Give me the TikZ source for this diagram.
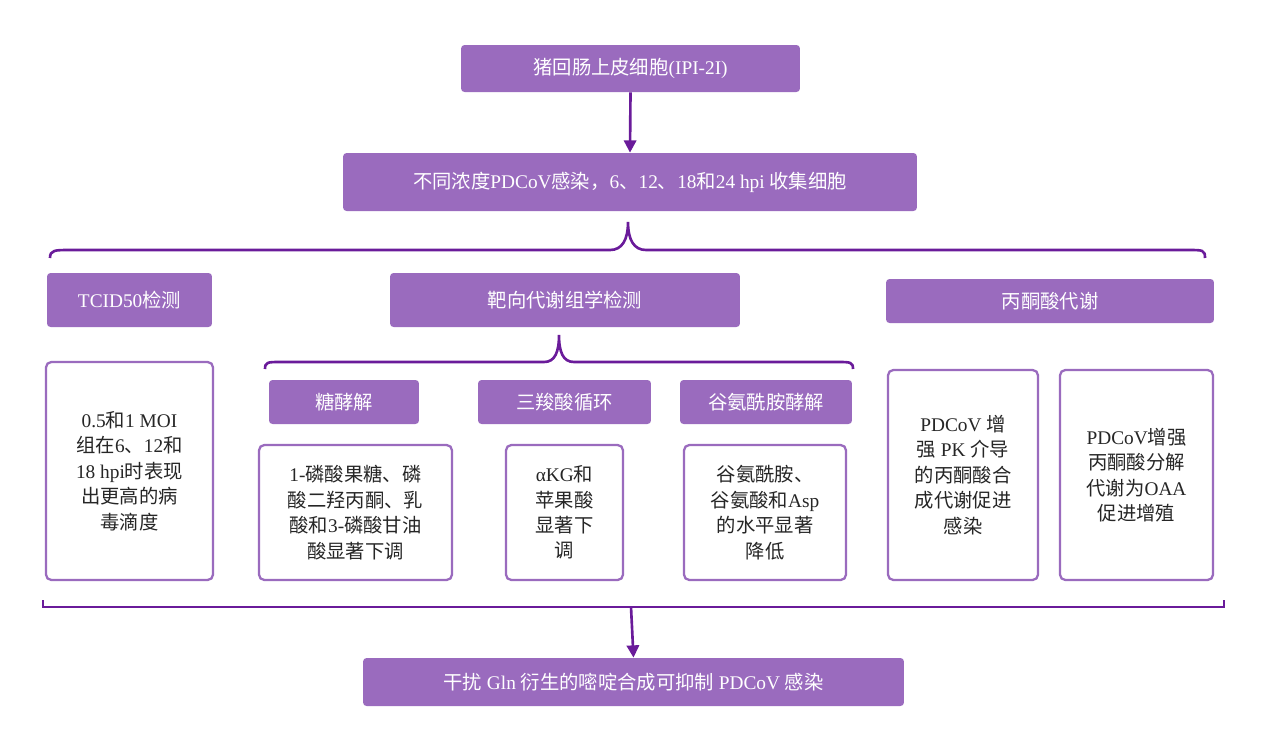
\documentclass[tikz,border=0pt]{standalone}
\usepackage{fontspec}
\setmainfont{Liberation Serif}
\newfontfamily\cjk{Noto Sans CJK SC}
\newcommand{\zh}[1]{{\cjk #1}}
\usetikzlibrary{arrows.meta}
\definecolor{pf}{HTML}{9A6BBE}
\definecolor{pd}{HTML}{6A1B9A}
\begin{document}
\begin{tikzpicture}[x=0.02cm,y=-0.02cm,
 fb/.style={fill=pf,draw=none,rounded corners=2pt,text=white,font=\fontsize{11}{13}\selectfont,align=center},
 wb/.style={draw=pf,line width=1.3pt,fill=white,rounded corners=3pt,font=\fontsize{11}{14.5}\selectfont,align=center,text=black!85},
 ar/.style={pd,line width=1.5pt,-{Triangle[length=7pt,width=7pt]}},
 br/.style={pd,line width=1.5pt}]
\useasboundingbox (0,0) rectangle (1267,751);
\newcommand{\bx}[6]{\node[#1,minimum width=#4*0.02cm-0.02cm,minimum height=#5*0.02cm,inner sep=0pt] (#6) at (#2,#3) {};}
% filled boxes
\node[fb,minimum width=6.78cm,minimum height=0.94cm] (a) at (630.5,68.5) {\zh{猪回肠上皮细胞}(IPI-2I)};
\node[fb,minimum width=11.48cm,minimum height=1.16cm] (b) at (630,182) {\zh{不同浓度}PDCoV\zh{感染，}6\zh{、}12\zh{、}18\zh{和}24 hpi \zh{收集细胞}};
\node[fb,minimum width=3.3cm,minimum height=1.08cm] (t) at (129.5,300) {TCID50\zh{检测}};
\node[fb,minimum width=7.0cm,minimum height=1.08cm] (m) at (565,300) {\zh{靶向代谢组学检测}};
\node[fb,minimum width=6.56cm,minimum height=0.88cm] (p) at (1050,301) {\zh{丙酮酸代谢}};
\node[fb,minimum width=3.0cm,minimum height=0.88cm] (g1) at (344,402) {\zh{糖酵解}};
\node[fb,minimum width=3.46cm,minimum height=0.88cm] (g2) at (564.5,402) {\zh{三羧酸循环}};
\node[fb,minimum width=3.44cm,minimum height=0.88cm] (g3) at (766,402) {\zh{谷氨酰胺酵解}};
\node[fb,minimum width=10.82cm,minimum height=0.96cm] (z) at (633.5,682) {\zh{干扰} Gln \zh{衍生的嘧啶合成可抑制} PDCoV \zh{感染}};
% white boxes
\node[wb,minimum width=3.34cm,minimum height=4.36cm] (w0) at (129.5,471) {0.5\zh{和}1 MOI\\\zh{组在}6\zh{、}12\zh{和}\\18 hpi\zh{时表现}\\\zh{出更高的病}\\\zh{毒滴度}};
\node[wb,minimum width=3.86cm,minimum height=2.7cm] (w1) at (355.5,512.5) {1-\zh{磷酸果糖、磷}\\\zh{酸二羟丙酮、乳}\\\zh{酸和}3-\zh{磷酸甘油}\\\zh{酸显著下调}};
\node[wb,minimum width=2.34cm,minimum height=2.7cm] (w2) at (564.5,512.5) {αKG\zh{和}\\\zh{苹果酸}\\\zh{显著下}\\\zh{调}};
\node[wb,minimum width=3.24cm,minimum height=2.7cm] (w3) at (765,512.5) {\zh{谷氨酰胺、}\\\zh{谷氨酸和}Asp\\\zh{的水平显著}\\\zh{降低}};
\node[wb,minimum width=3.0cm,minimum height=4.2cm] (w4) at (963,475) {PDCoV \zh{增}\\\zh{强} PK \zh{介导}\\\zh{的丙酮酸合}\\\zh{成代谢促进}\\\zh{感染}};
\node[wb,minimum width=3.06cm,minimum height=4.2cm] (w5) at (1136.5,475) {PDCoV\zh{增强}\\\zh{丙酮酸分解}\\\zh{代谢为}OAA\\\zh{促进增殖}};
% arrows
\draw[ar] (a.south) -- (b.north);
% top brace
\draw[br] (50,258) .. controls (50,250) and (55,250) .. (70,250) -- (610,250) .. controls (622,250) and (628,240) .. (628,222)
 .. controls (628,240) and (634,250) .. (646,250) -- (1188,250) .. controls (1203,250) and (1205,250) .. (1205,258);
\coordinate (bt) at (628,222);
% mid brace
\draw[br] (265,369) .. controls (265,362) and (268,362) .. (280,362) -- (544,362) .. controls (555,362) and (559,352) .. (559,335)
 .. controls (559,352) and (563,362) .. (574,362) -- (838,362) .. controls (850,362) and (853,362) .. (853,369);
% bottom bracket
\coordinate (bb) at (631,607);
\draw[br] (43,600) -- (43,607) -- (1224,607) -- (1224,600);
\draw[ar] (bb) -- (z.north);
\end{tikzpicture}
\end{document}
